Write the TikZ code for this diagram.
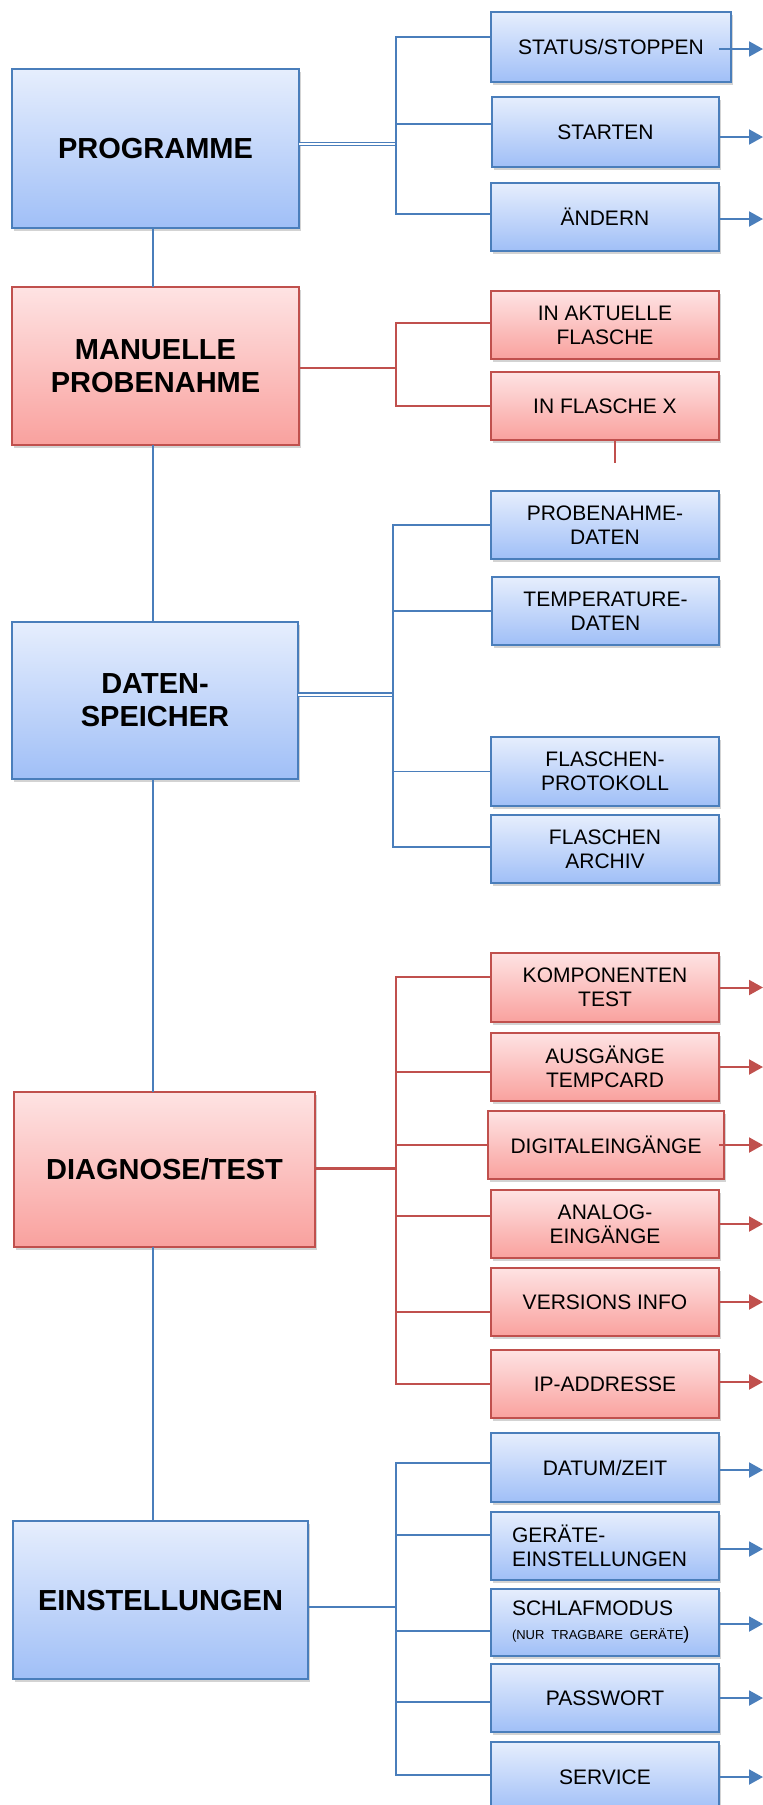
\documentclass[tikz,border=0pt]{standalone}
\usepackage{fontspec}
\setmainfont{Liberation Sans}
\usetikzlibrary{arrows.meta,shadows,calc}
\definecolor{bluebd}{HTML}{4A7EBB}
\definecolor{redbd}{HTML}{C0504D}
\definecolor{bluetop}{HTML}{E6EEFD}
\definecolor{bluebot}{HTML}{A0BFF7}
\definecolor{redtop}{HTML}{FEE3E3}
\definecolor{redbot}{HTML}{F9A19E}
\begin{document}
\begin{tikzpicture}[x=1pt,y=-1pt,
 box/.style={draw, line width=1.8pt, inner sep=0pt, outer sep=0pt, anchor=north west, align=center,
   drop shadow={shadow xshift=1.5pt, shadow yshift=-3pt, opacity=0.35}},
 bbox/.style={box, draw=bluebd, top color=bluetop, bottom color=bluebot},
 rbox/.style={box, draw=redbd, top color=redtop, bottom color=redbot},
 mainbox/.style={font=\fontsize{29}{33}\selectfont\bfseries},
 subbox/.style={font=\fontsize{21}{24}\selectfont, minimum width=228pt, minimum height=68pt},
 bl/.style={draw=bluebd, line width=1.5pt},
 rl/.style={draw=redbd, line width=1.5pt},
 bdbl/.style={draw=bluebd, double=white, double distance=2pt, line width=1.2pt},
 barr/.style={draw=bluebd, line width=2pt, -{Triangle[length=14pt,width=15pt]}},
 rarr/.style={draw=redbd, line width=2pt, -{Triangle[length=14pt,width=15pt]}},
]
\useasboundingbox (0,0) rectangle (763,1805);

% main boxes
\node[bbox, mainbox, minimum width=287pt, minimum height=159pt] (prog) at (12,69) {PROGRAMME};
\node[rbox, mainbox, minimum width=287pt, minimum height=158pt] (manu) at (12,287) {MANUELLE\\PROBENAHME};
\node[bbox, mainbox, minimum width=286pt, minimum height=157pt] (daten) at (12,622) {DATEN-\\SPEICHER};
\node[rbox, mainbox, minimum width=301pt, minimum height=155pt] (diag) at (14,1092) {DIAGNOSE/TEST};
\node[bbox, mainbox, minimum width=295pt, minimum height=158pt] (einst) at (13,1521) {EINSTELLUNGEN};

% sub boxes
\node[bbox, subbox, minimum width=240pt, minimum height=70pt] (sstat) at (491,12) {STATUS/STOPPEN};
\node[bbox, subbox, minimum width=227pt, minimum height=70pt] (sstart) at (492,97) {STARTEN};
\node[bbox, subbox] (saend) at (491,183) {ÄNDERN};
\node[rbox, subbox] (sakt) at (491,291) {IN AKTUELLE\\FLASCHE};
\node[rbox, subbox] (sflx) at (491,372) {IN FLASCHE X};
\node[bbox, subbox] (spd) at (491,491) {PROBENAHME-\\DATEN};
\node[bbox, subbox, minimum width=227pt] (std) at (492,577) {TEMPERATURE-\\DATEN};
\node[bbox, subbox, minimum height=69pt] (sfp) at (491,737) {FLASCHEN-\\PROTOKOLL};
\node[bbox, subbox] (sfa) at (491,815) {FLASCHEN\\ARCHIV};
\node[rbox, subbox, minimum height=69pt] (skt) at (491,953) {KOMPONENTEN\\TEST};
\node[rbox, subbox] (sat) at (491,1033) {AUSGÄNGE\\TEMPCARD};
\node[rbox, subbox, minimum width=236pt] (sdig) at (488,1111) {DIGITALEINGÄNGE};
\node[rbox, subbox] (san) at (491,1190) {ANALOG-\\EINGÄNGE};
\node[rbox, subbox] (sver) at (491,1268) {VERSIONS INFO};
\node[rbox, subbox] (sip) at (491,1350) {IP-ADDRESSE};
\node[bbox, subbox, minimum height=69pt] (sdat) at (491,1433) {DATUM/ZEIT};
\node[bbox, subbox, align=left, text width=186pt, inner xsep=21pt] (sger) at (491,1512) {GERÄTE-\\EINSTELLUNGEN};
\node[bbox, subbox, minimum height=67pt, align=left, text width=186pt, inner xsep=21pt] (ssch) at (491,1589)
  {SCHLAFMODUS\\\mbox{\fontsize{13}{16}\selectfont (NUR TRAGBARE GERÄTE\fontsize{18}{16}\selectfont)}};
\node[bbox, subbox] (spw) at (491,1664) {PASSWORT};
\node[bbox, subbox, minimum height=70pt] (ssrv) at (491,1742) {SERVICE};

% trunk
\coordinate (trunk) at (153,0);
\draw[bl] (trunk |- prog.south) -- (trunk |- manu.north);
\draw[bl] (trunk |- manu.south) -- (trunk |- daten.north);
\draw[bl] (trunk |- daten.south) -- (trunk |- diag.north);
\draw[bl] (trunk |- diag.south) -- (trunk |- einst.north);

% junctions
\coordinate (j1) at (396,144);
\coordinate (j2) at (396,368);
\coordinate (j3) at (393,694.5);
\coordinate (j4) at (396,1168);
\coordinate (j5) at (396,1607);

% PROGRAMME branches
\draw[bdbl] (prog.east |- j1) -- (j1);
\draw[bl] (j1) |- ($(sstat.west)+(0,-10)$);
\draw[bl] (j1) |- ($(sstart.west)+(0,-8)$);
\draw[bl] (j1) |- ($(saend.west)+(0,-3)$);

% MANUELLE branches
\draw[rl] (manu.east |- j2) -- (j2);
\draw[rl] (j2) |- ($(sakt.west)+(0,-2)$);
\draw[rl] (j2) |- (sflx.west);
\coordinate (stub) at (615,463);
\draw[rl] (stub |- sflx.south) -- (stub);

% DATEN branches
\draw[bdbl] (daten.east |- j3) -- (j3);
\draw[bl] (j3) |- (spd.west);
\draw[bl] (j3) |- (std.west);
\draw[bl] (j3) |- (sfp.west);
\draw[bl] (j3) |- ($(sfa.west)+(0,-2)$);

% DIAGNOSE branches
\draw[rl, line width=3pt] (diag.east |- j4) -- (j4);
\draw[rl] (j4) |- ($(skt.west)+(0,-10.5)$);
\draw[rl] (j4) |- ($(sat.west)+(0,5)$);
\draw[rl] (j4) |- (sdig.west);
\draw[rl] (j4) |- ($(san.west)+(0,-8)$);
\draw[rl] (j4) |- ($(sver.west)+(0,10)$);
\draw[rl] (j4) |- (sip.west);

% EINSTELLUNGEN branches
\draw[bl, line width=2.5pt] (einst.east |- j5) -- (j5);
\draw[bl] (j5) |- ($(sdat.west)+(0,-4.5)$);
\draw[bl] (j5) |- ($(sger.west)+(0,-11)$);
\draw[bl] (j5) |- ($(ssch.west)+(0,8.5)$);
\draw[bl] (j5) |- ($(spw.west)+(0,4)$);
\draw[bl] (j5) |- ($(ssrv.west)+(0,-2)$);

% arrows
\coordinate (ax) at (719,0);
\coordinate (rx) at (763,0);
\draw[barr] ($(ax |- sstat.east)+(0,2)$) -- ($(rx |- sstat.east)+(0,2)$);
\draw[barr] ($(ax |- sstart.east)+(0,5)$) -- ($(rx |- sstart.east)+(0,5)$);
\draw[barr] ($(ax |- saend.east)+(0,2)$) -- ($(rx |- saend.east)+(0,2)$);
\draw[rarr] (ax |- skt.east) -- (rx |- skt.east);
\draw[rarr] (ax |- sat.east) -- (rx |- sat.east);
\draw[rarr] (ax |- sdig.east) -- (rx |- sdig.east);
\draw[rarr] (ax |- san.east) -- (rx |- san.east);
\draw[rarr] (ax |- sver.east) -- (rx |- sver.east);
\draw[rarr] ($(ax |- sip.east)+(0,-2)$) -- ($(rx |- sip.east)+(0,-2)$);
\draw[barr] ($(ax |- sdat.east)+(0,2.5)$) -- ($(rx |- sdat.east)+(0,2.5)$);
\draw[barr] ($(ax |- sger.east)+(0,3)$) -- ($(rx |- sger.east)+(0,3)$);
\draw[barr] ($(ax |- ssch.east)+(0,1.5)$) -- ($(rx |- ssch.east)+(0,1.5)$);
\draw[barr] (ax |- spw.east) -- (rx |- spw.east);
\draw[barr] (ax |- ssrv.east) -- (rx |- ssrv.east);
\end{tikzpicture}
\end{document}
